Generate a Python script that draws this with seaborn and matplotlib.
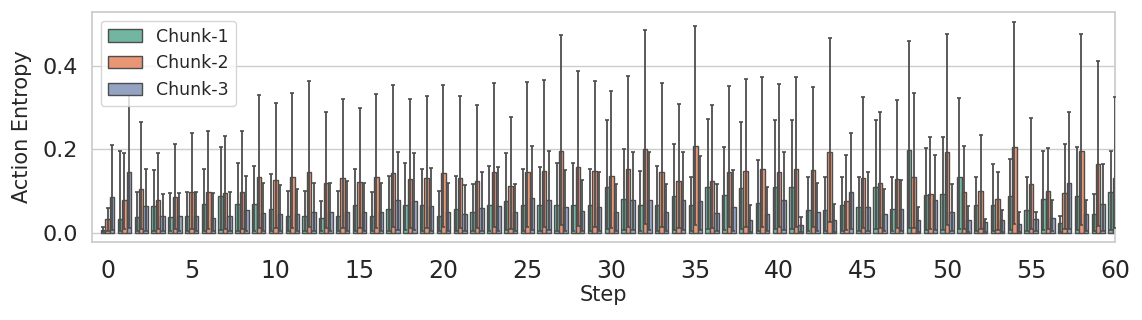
import numpy as np
import pandas as pd
import matplotlib
matplotlib.use("Agg")
import matplotlib.pyplot as plt
import seaborn as sns

steps = list(range(61))
chunks = ["Chunk-1", "Chunk-2", "Chunk-3"]

# mean action entropy per step
chunk1_mean = [0.007, 0.033, 0.038, 0.064, 0.038, 0.040, 0.068, 0.088, 0.068, 0.068,
               0.056, 0.040, 0.040, 0.035, 0.040, 0.067, 0.040, 0.057, 0.067, 0.067,
               0.040, 0.056, 0.050, 0.067, 0.076, 0.067, 0.067, 0.067, 0.067, 0.067,
               0.110, 0.081, 0.067, 0.067, 0.089, 0.067, 0.110, 0.090, 0.108, 0.072,
               0.110, 0.110, 0.055, 0.055, 0.067, 0.061, 0.110, 0.056, 0.198, 0.090,
               0.094, 0.134, 0.067, 0.067, 0.088, 0.055, 0.081, 0.024, 0.088, 0.046,
               0.098]
chunk2_mean = [0.033, 0.078, 0.105, 0.078, 0.085, 0.098, 0.097, 0.096, 0.098, 0.133,
               0.126, 0.134, 0.145, 0.120, 0.130, 0.121, 0.134, 0.142, 0.128, 0.132,
               0.142, 0.132, 0.125, 0.145, 0.112, 0.145, 0.148, 0.196, 0.158, 0.148,
               0.137, 0.153, 0.200, 0.145, 0.125, 0.208, 0.125, 0.145, 0.149, 0.153,
               0.145, 0.152, 0.150, 0.193, 0.076, 0.132, 0.120, 0.128, 0.134, 0.092,
               0.194, 0.097, 0.101, 0.081, 0.206, 0.117, 0.100, 0.096, 0.196, 0.165,
               0.130]
chunk3_mean = [0.085, 0.145, 0.064, 0.040, 0.040, 0.040, 0.035, 0.040, 0.054, 0.048,
               0.046, 0.044, 0.050, 0.050, 0.050, 0.050, 0.050, 0.078, 0.077, 0.064,
               0.050, 0.046, 0.060, 0.064, 0.050, 0.083, 0.078, 0.062, 0.053, 0.062,
               0.049, 0.078, 0.078, 0.049, 0.078, 0.076, 0.048, 0.062, 0.030, 0.046,
               0.078, 0.018, 0.049, 0.030, 0.097, 0.061, 0.044, 0.056, 0.030, 0.078,
               0.050, 0.030, 0.025, 0.030, 0.021, 0.033, 0.036, 0.119, 0.044, 0.070,
               0.060]

# top of the error bars
chunk1_hi = [0.014, 0.196, 0.097, 0.150, 0.095, 0.098, 0.153, 0.205, 0.167, 0.160,
             0.140, 0.100, 0.100, 0.075, 0.100, 0.152, 0.097, 0.137, 0.166, 0.152,
             0.100, 0.137, 0.118, 0.160, 0.190, 0.152, 0.158, 0.166, 0.166, 0.152,
             0.270, 0.200, 0.147, 0.161, 0.213, 0.134, 0.272, 0.206, 0.266, 0.174,
             0.270, 0.270, 0.134, 0.134, 0.134, 0.134, 0.270, 0.134, 0.460, 0.202,
             0.230, 0.324, 0.134, 0.165, 0.176, 0.134, 0.196, 0.040, 0.206, 0.092,
             0.196]
chunk2_hi = [0.060, 0.190, 0.265, 0.190, 0.213, 0.240, 0.243, 0.233, 0.244, 0.330,
             0.312, 0.335, 0.363, 0.290, 0.320, 0.300, 0.333, 0.354, 0.320, 0.328,
             0.354, 0.327, 0.307, 0.360, 0.278, 0.362, 0.366, 0.473, 0.387, 0.364,
             0.340, 0.375, 0.485, 0.358, 0.309, 0.496, 0.305, 0.351, 0.368, 0.374,
             0.356, 0.374, 0.350, 0.467, 0.187, 0.326, 0.290, 0.318, 0.334, 0.230,
             0.476, 0.208, 0.235, 0.145, 0.505, 0.276, 0.204, 0.212, 0.477, 0.412,
             0.326]
chunk3_hi = [0.210, 0.350, 0.152, 0.093, 0.095, 0.098, 0.096, 0.097, 0.135, 0.120,
             0.115, 0.106, 0.120, 0.120, 0.124, 0.120, 0.120, 0.194, 0.190, 0.156,
             0.120, 0.115, 0.145, 0.157, 0.118, 0.208, 0.197, 0.150, 0.126, 0.145,
             0.118, 0.194, 0.194, 0.117, 0.194, 0.184, 0.118, 0.150, 0.066, 0.110,
             0.194, 0.038, 0.120, 0.070, 0.240, 0.145, 0.106, 0.126, 0.062, 0.186,
             0.116, 0.064, 0.033, 0.054, 0.050, 0.050, 0.078, 0.290, 0.078, 0.164,
             0.140]

# bottom of the error bars
chunk1_lo = [0.002, 0.003, 0.004, 0.005, 0.003, 0.004, 0.005, 0.006, 0.004, 0.005,
             0.004, 0.003, 0.003, 0.003, 0.003, 0.005, 0.003, 0.004, 0.006, 0.005,
             0.003, 0.004, 0.004, 0.005, 0.006, 0.005, 0.005, 0.005, 0.005, 0.005,
             0.008, 0.006, 0.005, 0.005, 0.007, 0.005, 0.008, 0.006, 0.008, 0.005,
             0.008, 0.008, 0.004, 0.004, 0.005, 0.004, 0.008, 0.004, 0.012, 0.006,
             0.007, 0.009, 0.005, 0.005, 0.006, 0.004, 0.006, 0.002, 0.006, 0.003,
             0.007]
chunk2_lo = [0.004, 0.008, 0.010, 0.008, 0.008, 0.009, 0.009, 0.009, 0.009, 0.012,
             0.011, 0.012, 0.013, 0.011, 0.012, 0.011, 0.012, 0.013, 0.012, 0.012,
             0.013, 0.012, 0.011, 0.013, 0.010, 0.013, 0.014, 0.019, 0.015, 0.014,
             0.012, 0.014, 0.020, 0.013, 0.011, 0.019, 0.011, 0.013, 0.014, 0.014,
             0.013, 0.014, 0.014, 0.025, 0.007, 0.012, 0.011, 0.012, 0.012, 0.008,
             0.018, 0.009, 0.009, 0.007, 0.020, 0.010, 0.009, 0.009, 0.019, 0.015,
             0.012]
chunk3_lo = [0.006, 0.012, 0.005, 0.003, 0.003, 0.003, 0.003, 0.003, 0.004, 0.004,
             0.004, 0.004, 0.004, 0.004, 0.004, 0.004, 0.004, 0.006, 0.006, 0.005,
             0.004, 0.004, 0.005, 0.005, 0.004, 0.007, 0.006, 0.005, 0.004, 0.005,
             0.004, 0.006, 0.006, 0.004, 0.006, 0.006, 0.004, 0.005, 0.002, 0.004,
             0.006, 0.001, 0.004, 0.002, 0.008, 0.005, 0.003, 0.004, 0.002, 0.006,
             0.004, 0.002, 0.002, 0.002, 0.002, 0.003, 0.003, 0.010, 0.003, 0.005,
             0.005]

means = [chunk1_mean, chunk2_mean, chunk3_mean]
his = [chunk1_hi, chunk2_hi, chunk3_hi]
los = [chunk1_lo, chunk2_lo, chunk3_lo]

df = pd.DataFrame({
    "Step": steps * 3,
    "Chunk": [c for c in chunks for _ in steps],
    "Entropy": chunk1_mean + chunk2_mean + chunk3_mean,
})

sns.set_theme(style="whitegrid")
plt.rcParams["font.family"] = ["DejaVu Sans"]

fig = plt.figure(figsize=(11.42, 3.2), dpi=100)
ax = fig.add_axes([0.0806, 0.244, 0.8958, 0.7185])

sns.barplot(data=df, x="Step", y="Entropy", hue="Chunk", hue_order=chunks,
            palette="Set2", edgecolor=".3", linewidth=1, errorbar=None, ax=ax)

# error bars at the bar centres
for container, m, hi, lo in zip(ax.containers, means, his, los):
    xs = [b.get_x() + b.get_width() / 2 for b in container]
    m = np.array(m)
    yerr = [m - np.array(lo), np.array(hi) - m]
    ax.errorbar(xs, m, yerr=yerr, fmt="none", ecolor=".3",
                elinewidth=1.3, capsize=1.5, capthick=1.2, zorder=3)

ax.set_xlim(-0.93, 60.0)
ax.set_ylim(-0.022, 0.529)
ax.set_xticks(range(0, 61, 5))
ax.set_xticklabels([str(s) for s in range(0, 61, 5)])
ax.set_yticks([0.0, 0.2, 0.4])
ax.tick_params(axis="x", labelsize=17, pad=6)
ax.tick_params(axis="y", labelsize=16, pad=4)
ax.set_xlabel("Step", fontsize=15, labelpad=2)
ax.set_ylabel("Action Entropy", fontsize=15, labelpad=8)
ax.legend(loc="upper left", fontsize=12.5)

fig.savefig("out.png", dpi=100)
